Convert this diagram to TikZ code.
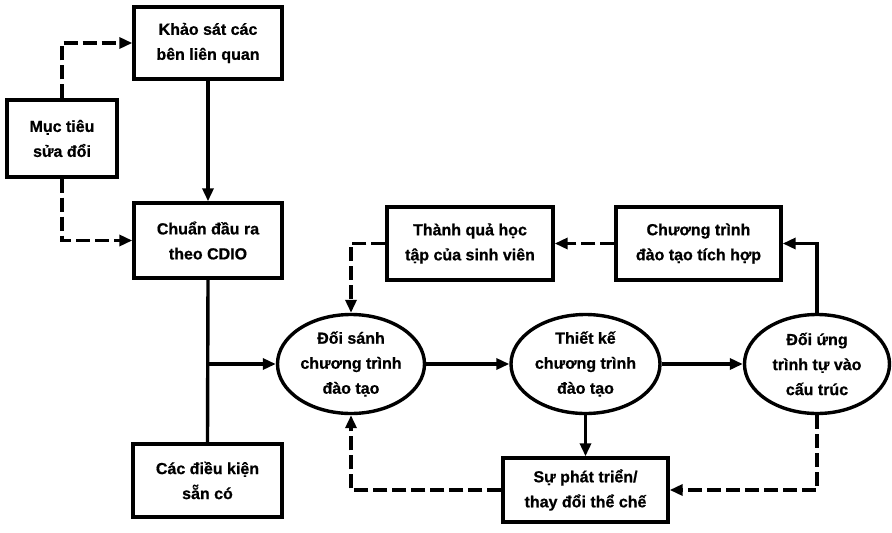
\documentclass[tikz,border=0pt]{standalone}
\usepackage{fontspec}
\setmainfont{Liberation Sans}[BoldFeatures={FakeBold=0.8}]
\usetikzlibrary{arrows.meta,shapes.geometric}
\begin{document}
\begin{tikzpicture}[x=1pt,y=-1pt,
  every node/.style={font=\bfseries\fontsize{16}{25}\selectfont, align=center, inner sep=0pt},
  box/.style={draw, rectangle, line width=3.4pt},
  oval/.style={draw, ellipse, line width=3.4pt, minimum width=147pt, minimum height=99pt},
  link/.style={line width=3.4pt, -{Triangle[length=13pt,width=11pt]}},
  plainlink/.style={line width=3.4pt},
  dlink/.style={line width=3.4pt, dash pattern=on 14pt off 5pt, -{Triangle[length=13pt,width=11pt]}}]
\useasboundingbox (0,0) rectangle (892,533);

% boxes on the left
\node[box, minimum width=148pt, minimum height=72pt] (khaosat) at (208,43) {Khảo sát các\\bên liên quan};
\node[box, minimum width=110pt, minimum height=77pt] (muctieu) at (62,138.5) {Mục tiêu\\sửa đổi};
\node[box, minimum width=148pt, minimum height=75pt] (chuan) at (208,240.5) {Chuẩn đầu ra\\theo CDIO};
\node[box, minimum width=149pt, minimum height=73pt] (dieukien) at (207.5,480.5) {Các điều kiện\\sẵn có};

% upper boxes on the right
\node[box, minimum width=166pt, minimum height=73pt] (thanhqua) at (470,243.5) {Thành quả học\\tập của sinh viên};
\node[box, minimum width=165pt, minimum height=73pt] (chuongtrinh) at (698.5,243.5) {Chương trình\\đào tạo tích hợp};

% process ellipses
\node[oval] (doisanh) at (351,364) {Đối sánh\\chương trình\\đào tạo};
\node[oval, minimum width=149pt] (thietke) at (585.5,364) {Thiết kế\\chương trình\\đào tạo};
\node[oval, minimum width=145pt] (doiung) at (817,364) {Đối ứng\\trình tự vào\\cấu trúc};

% lower box
\node[box, minimum width=165pt, minimum height=64pt] (phattrien) at (585.5,490) {Sự phát triển/\\thay đổi thể chế};

% connectors
\draw[dlink] (muctieu.north) |- (khaosat.west);
\draw[dlink] (muctieu.south) |- (chuan.west);
\draw[link] (khaosat) -- (chuan);
\draw[plainlink] (chuan.south) -- (dieukien.north);
\draw[link] (chuan.south |- doisanh.west) -- (doisanh.west);
\draw[link] (doisanh.east) -- (thietke.west);
\draw[link] (thietke.east) -- (doiung.west);
\draw[link] (doiung.north) |- (chuongtrinh.east);
\draw[dlink] (chuongtrinh.west) -- (thanhqua.east);
\draw[dlink] (thanhqua.west) -| (doisanh.north);
\draw[link] (thietke.south) -- (phattrien.north);
\draw[dlink] (doiung.south) |- (phattrien.east);
\draw[dlink] (phattrien.west) -| (doisanh.south);
\end{tikzpicture}
\end{document}
